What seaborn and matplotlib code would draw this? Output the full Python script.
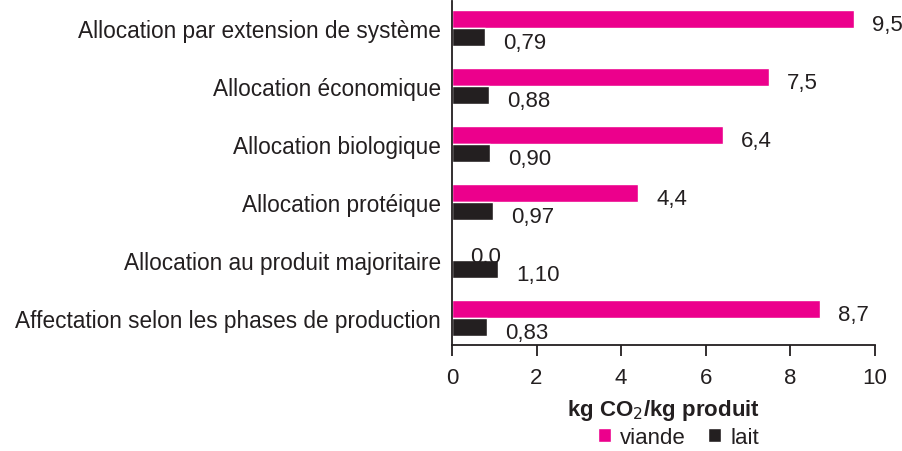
import pandas as pd
import seaborn as sns
from matplotlib import pyplot as plt
from matplotlib.patches import Patch

# Data
categories = ['Allocation par extension de système', 'Allocation économique',
              'Allocation biologique', 'Allocation protéique',
              'Allocation au produit majoritaire',
              'Affectation selon les phases de production']
viande = [9.5, 7.5, 6.4, 4.4, 0.0, 8.7]
lait = [0.79, 0.88, 0.90, 0.97, 1.10, 0.83]
series_names = ['viande', 'lait']
colors = ['#EC008C', '#231F20']
x_ticks = [0, 2, 4, 6, 8, 10]

df = pd.DataFrame({
    'categorie': categories * 2,
    'valeur': viande + lait,
    'produit': ['viande'] * len(categories) + ['lait'] * len(categories),
})

sns.set_style('white')
plt.rcParams['font.family'] = ['Liberation Sans', 'DejaVu Sans']
txt_color = '#231F20'

fig = plt.figure(figsize=(9.02, 4.52), dpi=100)
ax = fig.add_axes([0.501, 0.234, 0.469, 0.762])

sns.barplot(data=df, y='categorie', x='valeur', hue='produit', orient='h',
            palette=colors, hue_order=series_names, width=0.62, ax=ax,
            legend=False, saturation=1)

# Value labels with comma as decimal separator
for cont, fmt in zip(ax.containers, ['{:.1f}', '{:.2f}']):
    for bar in cont:
        w = bar.get_width()
        y = bar.get_y() + bar.get_height() / 2
        ax.annotate(fmt.format(w).replace('.', ','), (w, y),
                    xytext=(13, -4), textcoords='offset points',
                    ha='left', va='center', fontsize=16, color=txt_color)

ax.set_xlim(0, 10)
ax.set_ylim(5.47, -0.47)
ax.set_xticks(x_ticks)
ax.set_xticklabels([str(t) for t in x_ticks], fontsize=16, color=txt_color)
ax.tick_params(axis='x', direction='out', length=8, width=1.3, color=txt_color,
               bottom=True, pad=8)
ax.tick_params(axis='y', length=0, labelsize=16.3, pad=8, labelcolor=txt_color)
ax.set_ylabel('')
ax.set_xlabel('kg CO$_2$/kg produit', fontsize=16, fontweight='bold',
              labelpad=6, color=txt_color)

sns.despine(ax=ax, top=True, right=True)
for side in ['left', 'bottom']:
    ax.spines[side].set_color(txt_color)
    ax.spines[side].set_linewidth(1.3)

handles = [Patch(facecolor=c, label=n) for c, n in zip(colors, series_names)]
leg = fig.legend(handles=handles, loc='center', bbox_to_anchor=(0.752, 0.03),
                 ncol=2, frameon=False, fontsize=16, handlelength=0.6,
                 handleheight=0.6, handletextpad=0.4, columnspacing=1.0,
                 borderpad=0.2)
for t in leg.get_texts():
    t.set_color(txt_color)

plt.savefig('out.png', dpi=100)
plt.close()
